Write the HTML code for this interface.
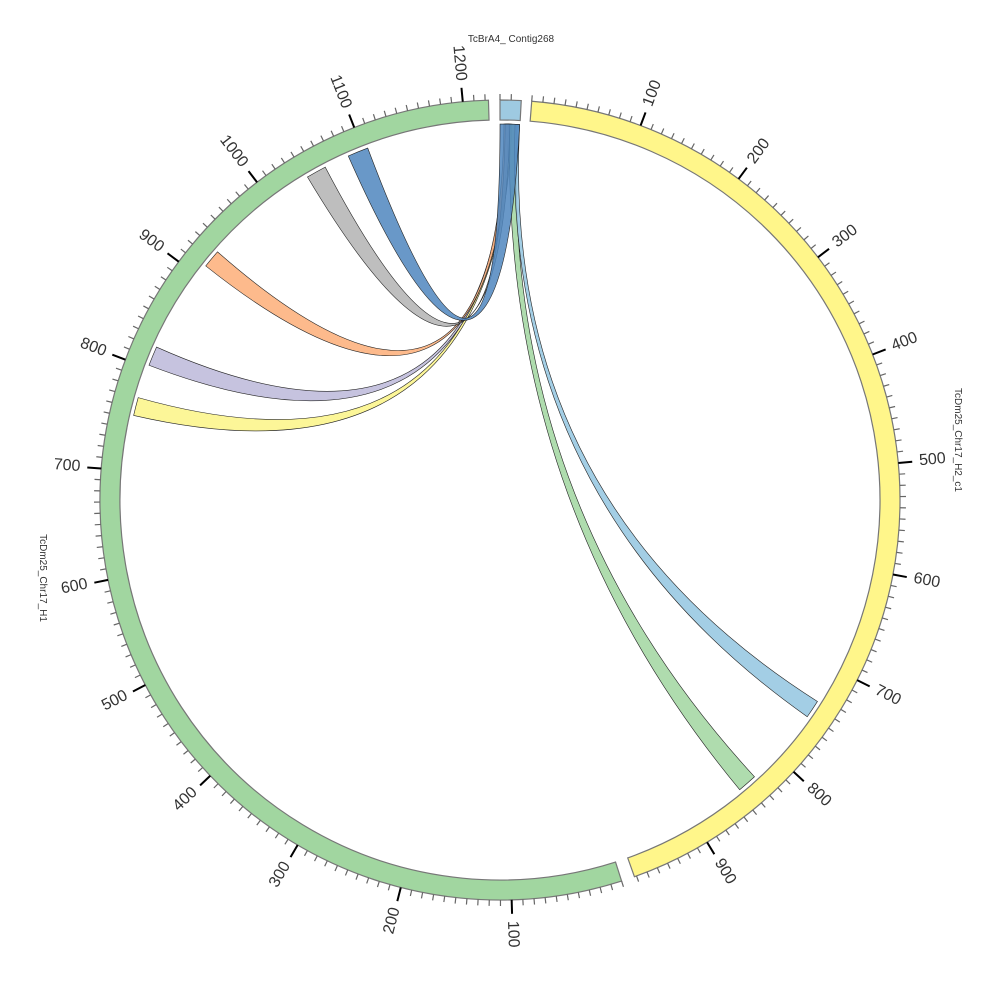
<!DOCTYPE html>
<html><head><meta charset="utf-8"><style>
html,body{margin:0;padding:0;background:#fff;}
svg{display:block;font-family:"Liberation Sans","DejaVu Sans",sans-serif;}
</style></head><body>
<svg id="s" width="1000" height="1000" viewBox="0 0 1000 1000" xmlns="http://www.w3.org/2000/svg"></svg>
<script>
const S=document.getElementById('s');const NS='http://www.w3.org/2000/svg';
const cx=500,cy=500,R0=380,R1=400,RR=376,K=0.1603;
function rad(a){return a*Math.PI/180;}
function pt(a,r){return [cx+r*Math.sin(rad(a)),cy-r*Math.cos(rad(a))];}
function el(t,at,txt){const e=document.createElementNS(NS,t);for(const k in at)e.setAttribute(k,at[k]);if(txt!==undefined)e.textContent=txt;S.appendChild(e);return e;}
function arcSeg(a1,a2,fill){
  const p1=pt(a1,R1),p2=pt(a2,R1),p3=pt(a2,R0),p4=pt(a1,R0);const lg=(a2-a1)>180?1:0;
  el('path',{d:`M${p1}A${R1},${R1} 0 ${lg} 1 ${p2}L${p3}A${R0},${R0} 0 ${lg} 0 ${p4}Z`,fill:fill,stroke:'#777','stroke-width':1.2});
}
const segs=[
 {start:162.3,len:1223,fill:'#a1d6a0',maj:100},
 {start:0.0,len:19,fill:'#9ecae1',maj:0},
 {start:4.55,len:972,fill:'#fff68a',maj:100}];
segs.forEach(s=>{
  const e=s.start+s.len*K;arcSeg(s.start,e,s.fill);
  for(let u=0;u<=s.len;u+=10){
    const a=s.start+u*K;const major=s.maj&&u%100==0&&u>0;
    const p1=pt(a,R1),p2=pt(a,R1+(major?14:6));
    el('line',{x1:p1[0],y1:p1[1],x2:p2[0],y2:p2[1],stroke:major?'#000':'#666','stroke-width':major?2:1.2});
    if(major){
      let aa=((a%360)+360)%360;const p=pt(aa,421);
      let rot,anc;
      if(aa<180){rot=aa-90;anc='start';}else{rot=aa-270;anc='end';}
      el('text',{x:p[0],y:p[1],'font-size':16,fill:'#333','text-anchor':anc,'dominant-baseline':'middle',transform:`rotate(${rot} ${p[0]} ${p[1]})`},String(u));
    }
  }
});
function ribbon(a1,a2,b1,b2,fill){
  const p1=pt(a1,RR),p2=pt(a2,RR),q1=pt(b1,RR),q2=pt(b2,RR);
  const la=Math.abs(a2-a1)>180?1:0, lb=Math.abs(b2-b1)>180?1:0;
  const d=`M${p1}A${RR},${RR} 0 ${la} 1 ${p2}Q${cx},${cy} ${q1}A${RR},${RR} 0 ${lb} 1 ${q2}Q${cx},${cy} ${p1}Z`;
  el('path',{d:d,fill:fill,'fill-opacity':0.85,stroke:'#222','stroke-width':0.6});
}
ribbon(1.2,1.8,283,285.8,'#fbf486');
ribbon(1.0,1.6,291,294,'#bcb8d9');
ribbon(0.6,1.3,308.5,311.3,'#fdae78');
ribbon(0.8,1.5,329.2,332.3,'#b3b3b3');
ribbon(1.5,2.6,137.4,140.4,'#a1d6a0');
ribbon(2.3,3.0,122.4,125.2,'#93c5e0');
ribbon(0.0,3.0,336.2,339.4,'#4f86be');
el('text',{x:511,y:42,'font-size':10,fill:'#333','text-anchor':'middle'},'TcBrA4_ Contig268');
el('text',{x:0,y:0,'font-size':10,fill:'#333','text-anchor':'middle',transform:'translate(955,440) rotate(90)'},'TcDm25_Chr17_H2_c1');
el('text',{x:0,y:0,'font-size':10,fill:'#333','text-anchor':'middle',transform:'translate(40,578) rotate(90)'},'TcDm25_Chr17_H1');
</script>
</body></html>
